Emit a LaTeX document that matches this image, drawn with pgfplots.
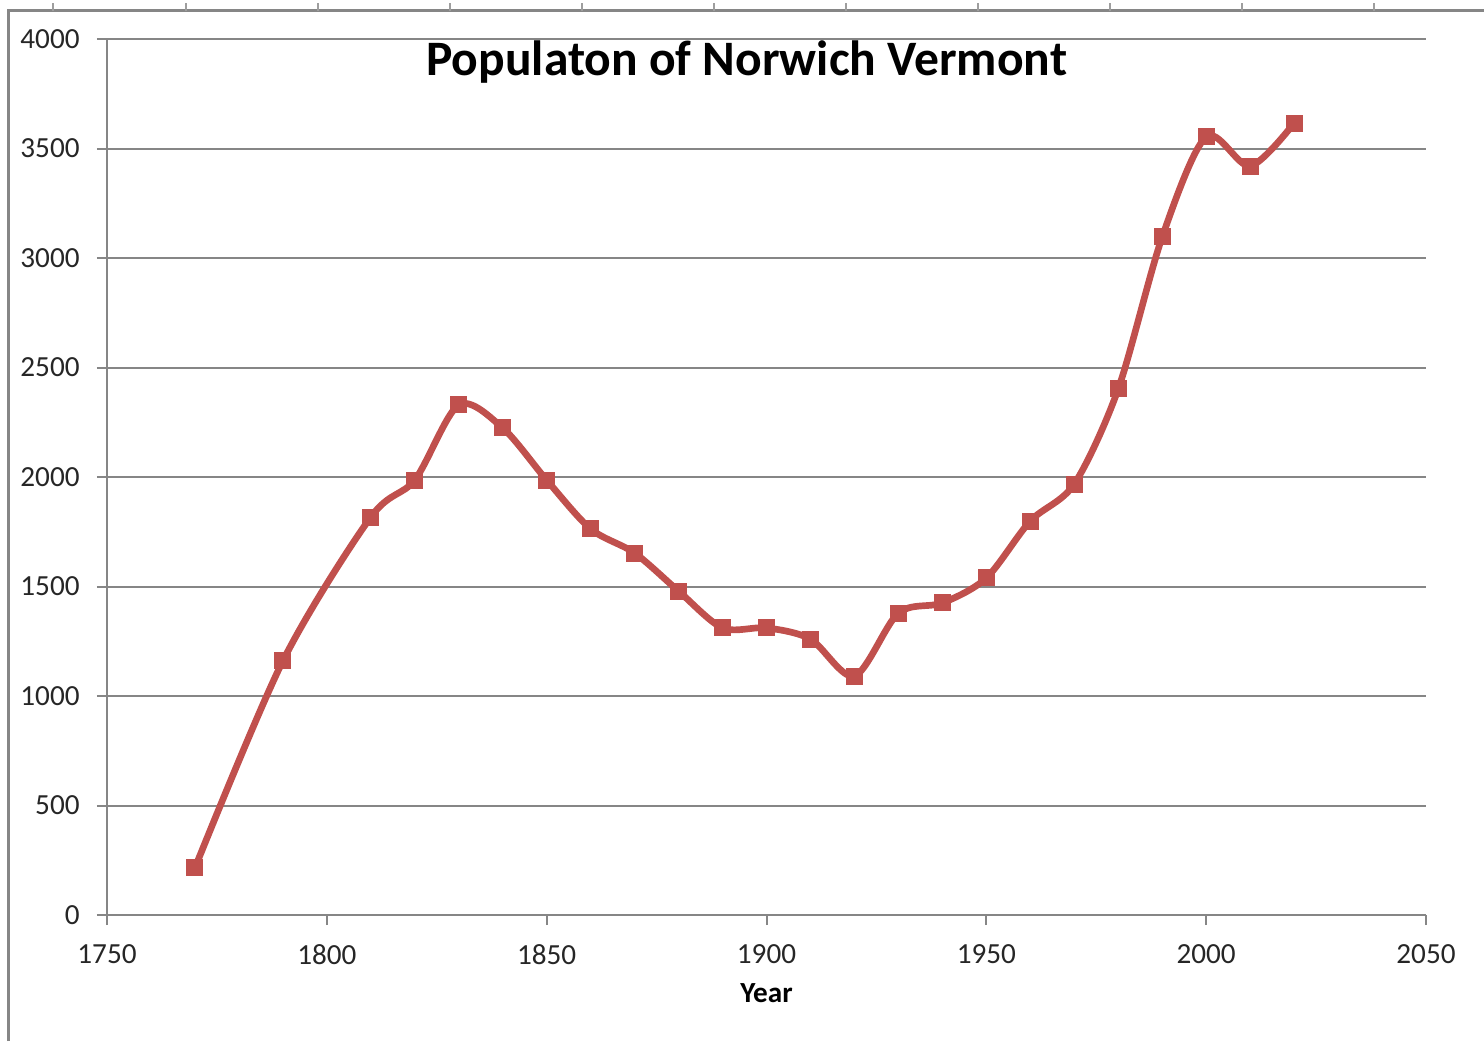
\documentclass[border=0pt]{standalone}
\usepackage{pgfplots}
\pgfplotsset{compat=1.18}
\usepackage{fontspec}
\setmainfont{Carlito}
\definecolor{linered}{RGB}{192,80,77}
\definecolor{gridgray}{RGB}{134,134,134}
\begin{document}
\begin{tikzpicture}
\useasboundingbox (-10.7mm,-12.6mm) rectangle (137.7mm,91.5mm);
\draw[gridgray, line width=0.3mm] (-9.8mm,-12.6mm) -- (-9.8mm,90.4mm) -- (137.7mm,90.4mm);
\foreach \t in {-5.4,7.9,21.1,34.3,47.5,60.7,73.9,87.1,100.3,113.5,126.7}
  \draw[gridgray!80, line width=0.15mm] (\t mm,90.4mm) -- (\t mm,91.2mm);
\begin{axis}[
  at={(0,0)}, anchor=south west,
  scale only axis, width=131.9mm, height=87.6mm,
  xmin=1750, xmax=2050, ymin=0, ymax=4000,
  xtick={1750,1800,...,2050}, ytick={0,500,...,4000},
  axis x line=bottom, axis y line=left,
  axis line style={-, gridgray, line width=0.2mm},
  ymajorgrids, grid style={gridgray, line width=0.2mm},
  tick align=outside, major tick length=1mm,
  tick style={gridgray, line width=0.2mm},
  minor tick num=0,
  ticklabel style={font=\fontsize{8.3}{10}\selectfont, text=black!85},
  xticklabel style={yshift=-0.7mm},
  yticklabel style={xshift=-0.5mm},
  /pgf/number format/1000 sep={},
  /pgf/number format/assume math mode=true,
  xlabel={\bfseries Year},
  xlabel style={at={(0.5,-0.089)}, anchor=center, font=\fontsize{8.3}{10}\selectfont},
  clip=false,
]
\addplot[linered, line width=1.9pt, smooth, tension=0.5, mark=square*, mark size=0.8mm, mark options={solid, fill=linered, line width=0pt}]
coordinates {
(1770,215) (1790,1160) (1810,1817) (1820,1986) (1830,2329) (1840,2224)
(1850,1986) (1860,1763) (1870,1653) (1880,1479) (1890,1311) (1900,1311)
(1910,1260) (1920,1091) (1930,1379) (1940,1425) (1950,1539) (1960,1799)
(1970,1968) (1980,2402) (1990,3096) (2000,3553) (2010,3420) (2020,3616)
};
\node[anchor=center, font=\fontsize{14.1}{16}\selectfont\bfseries] at (rel axis cs:0.485,0.974) {Populaton of Norwich Vermont};
\end{axis}
\end{tikzpicture}
\end{document}
